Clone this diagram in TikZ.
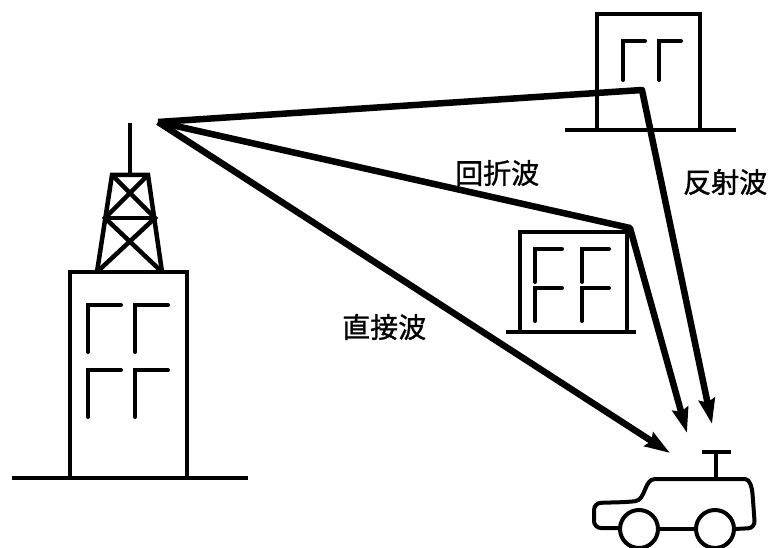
\documentclass[tikz,border=0pt]{standalone}
\usepackage{fontspec}
\newfontfamily\jpfont[FakeBold=1.2]{Noto Sans CJK JP}
\usepackage{tikz}
\usetikzlibrary{arrows.meta}

\begin{document}
\begin{tikzpicture}[x=1pt,y=-1pt,
		wall/.style={line width=4pt},
		mast/.style={line width=4.5pt},
		wave/.style={line width=6.5pt, line join=round, -{Stealth[length=25pt,width=16pt,inset=3pt]}},
		wavename/.style={font=\jpfont\fontsize{28}{30}\selectfont, anchor=west, inner sep=0pt}]
		\useasboundingbox (0,0) rectangle (774,548);
		% tall building with the transmitter tower
		\begin{scope}
			\draw[wall] (12,478) -- (248,478);
			\draw[wall] (70,478) -- (70,272) -- (187,272) -- (187,478);
			\foreach \x/\y in {88/305,135/305,88/370,135/370}
				\draw[wall, line cap=round] (\x,\y+47) -- (\x,\y) -- (\x+33,\y);
			\draw[mast] (97,272) -- (112,175) -- (148,175) -- (162,272);
			\draw[mast] (105,218) -- (155,218);
			\draw[mast] (112,175) -- (155,218) -- (97,272);
			\draw[mast] (148,175) -- (105,218) -- (162,272);
			\draw[mast] (130,175) -- (130,123);
		\end{scope}
		% far building (reflection)
		\begin{scope}
			\draw[wall] (565,130) -- (736,130);
			\draw[wall] (597,130) -- (597,14) -- (700,14) -- (700,130);
			\foreach \x in {623,659}
				\draw[wall, line cap=round] (\x,80) -- (\x,41) -- (\x+22,41);
		\end{scope}
		% near building (diffraction)
		\begin{scope}
			\draw[wall] (506,332) -- (636,332);
			\draw[wall] (520,332) -- (520,232) -- (627,232) -- (627,332);
			\foreach \x/\y in {535/249,582/249,535/288,582/288}
				\draw[wall, line cap=round] (\x,\y+33) -- (\x,\y) -- (\x+27,\y);
		\end{scope}
		% car with its antenna
		\begin{scope}
			\draw[wall, rounded corners=7pt] (620,528) -- (594,528) -- (594,503) -- (628,502)
				.. controls (646,500) and (644,479) .. (662,479) -- (738,479)
				.. controls (750,479) and (752,488) .. (753,500) -- (755,528) -- (734,529);
			\draw[wall] (658,529) -- (696,529);
			\draw[wall] (639,529) circle (19);
			\draw[wall] (715,529) circle (19);
			\draw[wall] (716,479) -- (716,452);
			\draw[wall] (702,452) -- (731,452);
		\end{scope}
		% radio paths
		\coordinate (tx) at (158,122);
		\coordinate (roof) at (642,90);
		\coordinate (edge) at (630,228);
		\coordinate (rxDirect) at (670,453);
		\coordinate (rxDiff) at (687,433);
		\coordinate (rxRefl) at (712,424);
		\draw[wave] (tx) -- (roof) -- (rxRefl);
		\draw[wave] (tx) -- (edge) -- (rxDiff);
		\draw[wave] (tx) -- (rxDirect);
		\node[wavename] (diffName) at (455,173) {回折波};
		\node[wavename] (reflName) at (683,182) {反射波};
		\node[wavename] (directName) at (342,327) {直接波};
	\end{tikzpicture}
\end{document}
